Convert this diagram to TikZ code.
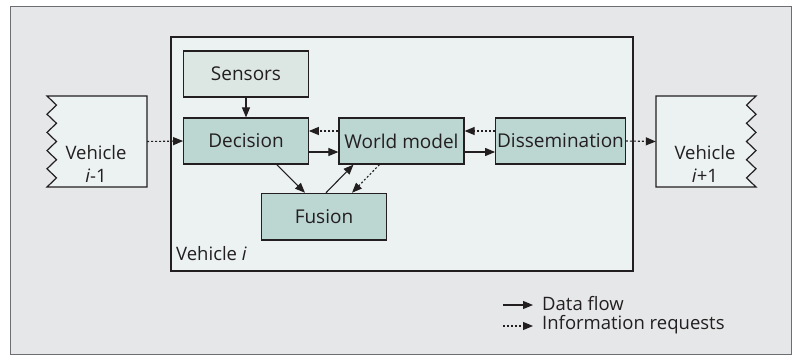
\documentclass[tikz,border=0pt]{standalone}
\usepackage{fontspec}
\setmainfont{Open Sans}
\usetikzlibrary{arrows.meta,calc}
\definecolor{outerfill}{HTML}{E6E7E8}
\definecolor{outerline}{HTML}{6D6E71}
\definecolor{innerfill}{HTML}{ECF2F2}
\definecolor{darkline}{HTML}{231F20}
\definecolor{sensfill}{HTML}{DCE6E3}
\definecolor{boxfill}{HTML}{BCD6D2}
\tikzset{
  blk/.style={draw=darkline, line width=1.2pt, inner sep=0pt, minimum height=46pt, text=darkline, font=\fontsize{19}{22}\selectfont},
  flow/.style={draw=darkline, line width=1.1pt, -{Triangle[length=10pt,width=8pt]}},
  req/.style={flow, dash pattern=on 2pt off 2pt},
  lbl/.style={text=darkline, font=\fontsize{18.5}{23}\selectfont, inner sep=0pt}
}
\begin{document}
\begin{tikzpicture}[x=1pt,y=-1pt]
\useasboundingbox (0,0) rectangle (797,356);
% outer frame
\draw[fill=outerfill, draw=outerline, line width=1.5pt] (10.5,6.5) rectangle (791.5,354.5);
% vehicle i
\node[draw=darkline, fill=innerfill, line width=1.2pt, minimum width=462pt, minimum height=234pt, inner sep=0pt] (vi) at (402,154) {};
\node[lbl, anchor=base west] (vilbl) at (176,260) {Vehicle \textit{i}};
% vehicle i-1 (zigzag left side)
\draw[fill=innerfill, draw=darkline, line width=1.2pt]
  (47,96) -- (147,96) -- (147,187) -- (47,187)
  -- (56.5,177.9) -- (47,168.8) -- (56.5,159.7) -- (47,150.6) -- (56.5,141.5)
  -- (47,132.4) -- (56.5,123.3) -- (47,114.2) -- (56.5,105.1) -- cycle;
\node[inner sep=0pt, minimum width=100pt, minimum height=91pt] (vm) at (97,141.5) {};
\node[lbl, align=center] (vmtxt) at (96,163.5) {Vehicle\\\textit{i}-1};
% vehicle i+1 (zigzag right side)
\draw[fill=innerfill, draw=darkline, line width=1.2pt]
  (756,96) -- (656,96) -- (656,187) -- (756,187)
  -- (746.5,177.9) -- (756,168.8) -- (746.5,159.7) -- (756,150.6) -- (746.5,141.5)
  -- (756,132.4) -- (746.5,123.3) -- (756,114.2) -- (746.5,105.1) -- cycle;
\node[inner sep=0pt, minimum width=100pt, minimum height=91pt] (vp) at (706,141.5) {};
\node[lbl, align=center] (vptxt) at (705,163.5) {Vehicle\\\textit{i}+1};
% blocks
\node[blk, fill=sensfill, minimum width=124.5pt] (sens) at (246,74) {Sensors};
\node[blk, fill=boxfill, minimum width=124.5pt] (dec) at (246,141) {Decision};
\node[blk, fill=boxfill, minimum width=125pt] (wm) at (401.5,141) {World model};
\node[blk, fill=boxfill, minimum width=129.6pt] (dis) at (560.5,141) {Dissemination};
\node[blk, fill=boxfill, minimum width=124.3pt, minimum height=46.7pt] (fus) at (324,216.7) {Fusion};
% connectors
\draw[flow] (sens) -- (dec);
\draw[req] (vm.east) -- (dec.west);
\draw[flow] ($(dec.east)+(0,11)$) -- ($(wm.west)+(0,11)$);
\draw[req] ($(wm.west)+(0,-10)$) -- ($(dec.east)+(0,-10)$);
\draw[flow] ($(wm.east)+(0,11)$) -- ($(dis.west)+(0,11)$);
\draw[req] ($(dis.west)+(0,-10)$) -- ($(wm.east)+(0,-10)$);
\draw[req] (dis.east) -- (vp.west);
\draw[flow] ($(dec.south)+(30.7,0)$) -- ($(fus.north)+(-19,0)$);
\draw[flow] ($(fus.north)+(2,0)$) -- ($(wm.south)+(-48,0)$);
\draw[req] ($(wm.south)+(-22,0)$) -- ($(fus.north)+(28,0)$);
% legend
\coordinate (l1a) at (503,305);
\coordinate (l1b) at (533,305);
\coordinate (l2a) at (503,326);
\coordinate (l2b) at (533,326);
\draw[flow] (l1a) -- (l1b);
\draw[req] (l2a) -- (l2b);
\node[lbl, anchor=west] (leg1) at (542,304) {Data flow};
\node[lbl, anchor=west] (leg2) at (542,325) {Information requests};
\end{tikzpicture}
\end{document}
